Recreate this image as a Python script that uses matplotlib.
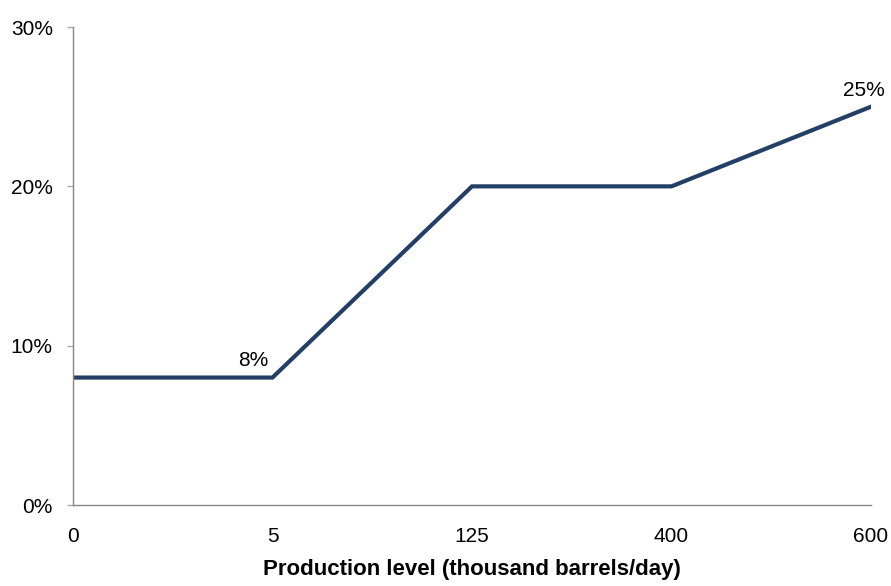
import matplotlib
matplotlib.use("Agg")
import matplotlib.pyplot as plt
from matplotlib.ticker import PercentFormatter

# royalty rate by production tier
levels = ["0", "5", "125", "400", "600"]
rates = [8, 8, 20, 20, 25]
# index -> (text, x offset, y offset) in points
labelled = {1: ("8%", -14, 8.5), 4: ("25%", -5, 8)}

plt.rcParams["font.family"] = ["Liberation Sans", "DejaVu Sans"]

fig = plt.figure(figsize=(8.91, 5.86), dpi=100)
ax = fig.add_axes([0.0819, 0.1382, 0.8957, 0.8157])

pos = list(range(len(levels)))
ax.plot(pos, rates, color="#243f66", lw=3, solid_joinstyle="miter")

for i, (txt, dx, dy) in labelled.items():
    ax.annotate(txt, (pos[i], rates[i]), xytext=(dx, dy), textcoords="offset points",
                ha="center", va="baseline", fontsize=15)

ax.set_xlim(0, len(levels) - 1)
ax.set_ylim(0, 30)
ax.set_xticks(pos)
ax.set_xticklabels(levels)
ax.set_yticks([0, 10, 20, 30])
ax.yaxis.set_major_formatter(PercentFormatter(decimals=0))

for s in ["top", "right"]:
    ax.spines[s].set_visible(False)
for s in ["left", "bottom"]:
    ax.spines[s].set_color("#888888")
    ax.spines[s].set_linewidth(1)

ax.tick_params(axis="y", length=4.5, width=1, color="#aaaaaa", labelsize=15, pad=10)
ax.tick_params(axis="x", length=0, labelsize=15, pad=16)

ax.set_xlabel("Production level (thousand barrels/day)", fontsize=16, fontweight="bold", labelpad=9)

fig.savefig("out.png", dpi=100)
